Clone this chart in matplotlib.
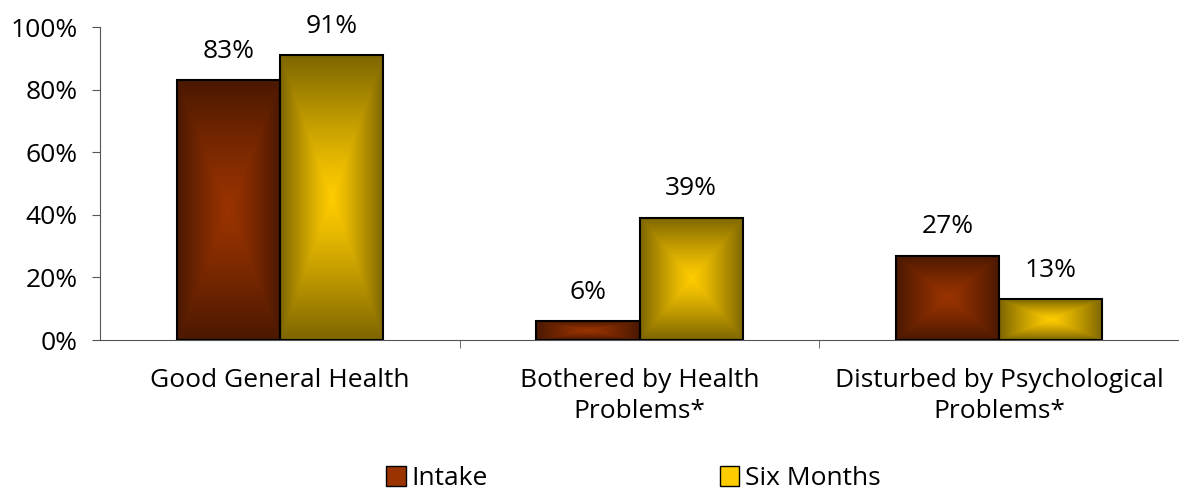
import numpy as np
import matplotlib.pyplot as plt
from matplotlib.patches import Patch

plt.rcParams['font.family'] = ['Open Sans', 'DejaVu Sans']

categories = ['Good General Health', 'Bothered by Health\nProblems*', 'Disturbed by Psychological\nProblems*']
intake = [83, 6, 27]
six_months = [91, 39, 13]
series = ['Intake', 'Six Months']

# centre / edge colours of the gradient fill
colours = {
    'Intake': ('#9a3300', '#4a1800'),
    'Six Months': ('#ffcc00', '#7d6500'),
}
fs = 19

fig = plt.figure(figsize=(11.79, 4.95), dpi=100)
ax = fig.add_axes([0.085, 0.313, 0.915, 0.632])

x = np.arange(len(categories))
w = 0.287


def gradient_bar(ax, xc, h, centre, edge):
    bar = ax.bar(xc, h, w, facecolor='none', edgecolor='black', linewidth=1.5, zorder=3)[0]
    u = np.linspace(-1, 1, 200)
    uu, vv = np.meshgrid(u, u)
    t = np.maximum(np.abs(uu), np.abs(vv)) ** 1.2
    c0 = np.array(plt.matplotlib.colors.to_rgb(centre))
    c1 = np.array(plt.matplotlib.colors.to_rgb(edge))
    img = c0 * (1 - t[..., None]) + c1 * t[..., None]
    im = ax.imshow(img, extent=[xc - w / 2, xc + w / 2, 0, h], aspect='auto', zorder=2,
                   interpolation='bilinear')
    im.set_clip_path(bar)
    return bar


for i in range(len(categories)):
    for vals, name, off in [(intake, 'Intake', -w / 2), (six_months, 'Six Months', w / 2)]:
        b = gradient_bar(ax, x[i] + off, vals[i], *colours[name])
        ax.annotate(f'{vals[i]}%', (x[i] + off, vals[i]), xytext=(0, 12), textcoords='offset points',
                    ha='center', va='bottom', fontsize=fs)

ax.set_xlim(-0.5, 2.5)
ax.set_ylim(0, 100)
ax.set_yticks(range(0, 101, 20))
ax.set_yticklabels([f'{v}%' for v in range(0, 101, 20)], fontsize=fs)
ax.set_xticks(x)
ax.set_xticklabels(categories, fontsize=fs, linespacing=1.3)
ax.set_xticks([0.5, 1.5], minor=True)
ax.tick_params(axis='x', which='major', length=0, pad=20)
ax.tick_params(axis='x', which='minor', length=6, color='#555555')
ax.tick_params(axis='y', length=6, color='#555555', pad=10)
for s in ['top', 'right']:
    ax.spines[s].set_visible(False)
for s in ['left', 'bottom']:
    ax.spines[s].set_color('#555555')

handles = [Patch(facecolor=colours[n][0], edgecolor='black', label=n) for n in series]
fig.legend(handles=handles, loc='lower center', bbox_to_anchor=(0.537, -0.04), ncol=2,
           frameon=False, fontsize=fs, handlelength=0.75, handleheight=0.75,
           handletextpad=0.2, columnspacing=8.8)

fig.savefig('out.png', dpi=100)
